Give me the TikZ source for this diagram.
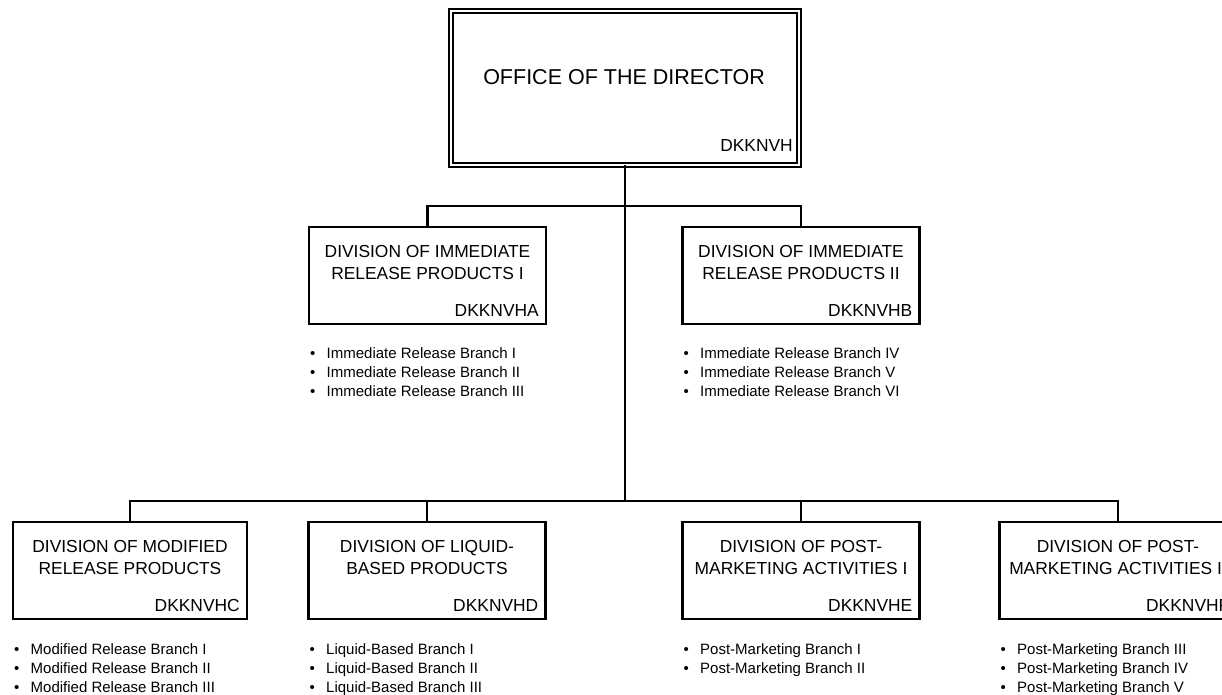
\documentclass[tikz,border=0pt]{standalone}
\usepackage{fontspec}
\setmainfont{Liberation Sans}
\usetikzlibrary{positioning}

\tikzset{
  orgline/.style={line width=2.5pt},
  topbox/.style={draw, line width=2pt, double, double distance=2pt, minimum width=348pt, minimum height=153.5pt, inner sep=0pt, outer sep=0pt},
  divbox/.style={draw, line width=2.2pt, minimum width=237pt, minimum height=97pt, inner sep=0pt, outer sep=0pt},
  divtitle/.style={align=center, inner sep=0pt, font=\fontsize{17.4}{22}\selectfont},
  divcode/.style={anchor=base east, inner sep=0pt, font=\fontsize{17.4}{21}\selectfont},
  branch/.style={anchor=base west, inner sep=0pt, font=\fontsize{15}{19}\selectfont},
}
\newcommand{\bul}{\makebox[16.5pt][l]{\textbullet}}

\begin{document}
\begin{tikzpicture}[x=1pt,y=-1pt]
\useasboundingbox (0,0) rectangle (1222,694);
\clip (0,0) rectangle (1222,694);

% director
\node[topbox] (dir) at (625,88) {};
\node[inner sep=0pt, font=\fontsize{21.5}{26}\selectfont] (dirname) at (624,77) {OFFICE OF THE DIRECTOR};
\node[divcode] (dircode) at ([xshift=-6pt,yshift=13pt]dir.south east) {DKKNVH};

% upper divisions
\node[divbox] (imA) at (427.5,275.5) {};
\node[divtitle] (imAname) at ([yshift=12.75pt]imA.center) {DIVISION OF IMMEDIATE\\RELEASE PRODUCTS I};
\node[divcode] (imAcode) at ([xshift=-7pt,yshift=8pt]imA.south east) {DKKNVHA};

\node[divbox] (imB) at (801,275.5) {};
\node[divtitle] (imBname) at ([yshift=12.75pt]imB.center) {DIVISION OF IMMEDIATE\\RELEASE PRODUCTS II};
\node[divcode] (imBcode) at ([xshift=-7pt,yshift=8pt]imB.south east) {DKKNVHB};

% lower divisions
\node[divbox, minimum width=234pt] (modC) at (130,570.5) {};
\node[divtitle] (modCname) at ([yshift=12.75pt]modC.center) {DIVISION OF MODIFIED\\RELEASE PRODUCTS};
\node[divcode] (modCcode) at ([xshift=-7pt,yshift=8pt]modC.south east) {DKKNVHC};

\node[divbox] (liqD) at (427,570.5) {};
\node[divtitle] (liqDname) at ([yshift=12.75pt]liqD.center) {DIVISION OF LIQUID-\\BASED PRODUCTS};
\node[divcode] (liqDcode) at ([xshift=-7pt,yshift=8pt]liqD.south east) {DKKNVHD};

\node[divbox] (pmE) at (801,570.5) {};
\node[divtitle] (pmEname) at ([yshift=12.75pt]pmE.center) {DIVISION OF POST-\\MARKETING ACTIVITIES I};
\node[divcode] (pmEcode) at ([xshift=-7pt,yshift=8pt]pmE.south east) {DKKNVHE};

\node[divbox] (pmF) at (1118,570.5) {};
\node[divtitle] (pmFname) at ([yshift=12.75pt]pmF.center) {DIVISION OF POST-\\MARKETING ACTIVITIES II};
\node[divcode] (pmFcode) at ([xshift=-7pt,yshift=8pt]pmF.south east) {DKKNVHF};

% branches
\foreach \t [count=\i] in {Immediate Release Branch I,Immediate Release Branch II,Immediate Release Branch III}
  \node[branch] (imA-\i) at ([xshift=1pt,yshift={-15-19*\i}]imA.south west) {\bul\t};
\foreach \t [count=\i] in {Immediate Release Branch IV,Immediate Release Branch V,Immediate Release Branch VI}
  \node[branch] (imB-\i) at ([xshift=1pt,yshift={-15-19*\i}]imB.south west) {\bul\t};
\foreach \t [count=\i] in {Modified Release Branch I,Modified Release Branch II,Modified Release Branch III}
  \node[branch] (modC-\i) at ([xshift=1pt,yshift={-16-19*\i}]modC.south west) {\bul\t};
\foreach \t [count=\i] in {Liquid-Based Branch I,Liquid-Based Branch II,Liquid-Based Branch III}
  \node[branch] (liqD-\i) at ([xshift=1pt,yshift={-16-19*\i}]liqD.south west) {\bul\t};
\foreach \t [count=\i] in {Post-Marketing Branch I,Post-Marketing Branch II}
  \node[branch] (pmE-\i) at ([xshift=1pt,yshift={-16-19*\i}]pmE.south west) {\bul\t};
\foreach \t [count=\i] in {Post-Marketing Branch III,Post-Marketing Branch IV,Post-Marketing Branch V}
  \node[branch] (pmF-\i) at ([xshift=1pt,yshift={-16-19*\i}]pmF.south west) {\bul\t};

% connectors
\coordinate (upbus) at (625,206);
\coordinate (lowbus) at (625,501);
\draw[orgline] (dir.south) -- (lowbus);
\draw[orgline] (imA.north) |- (upbus) -| (imB.north);
\draw[orgline] (modC.north) |- (lowbus) -| (pmF.north);
\draw[orgline] (liqD.north) -- (liqD.north |- lowbus);
\draw[orgline] (pmE.north) -- (pmE.north |- lowbus);
\end{tikzpicture}
\end{document}
